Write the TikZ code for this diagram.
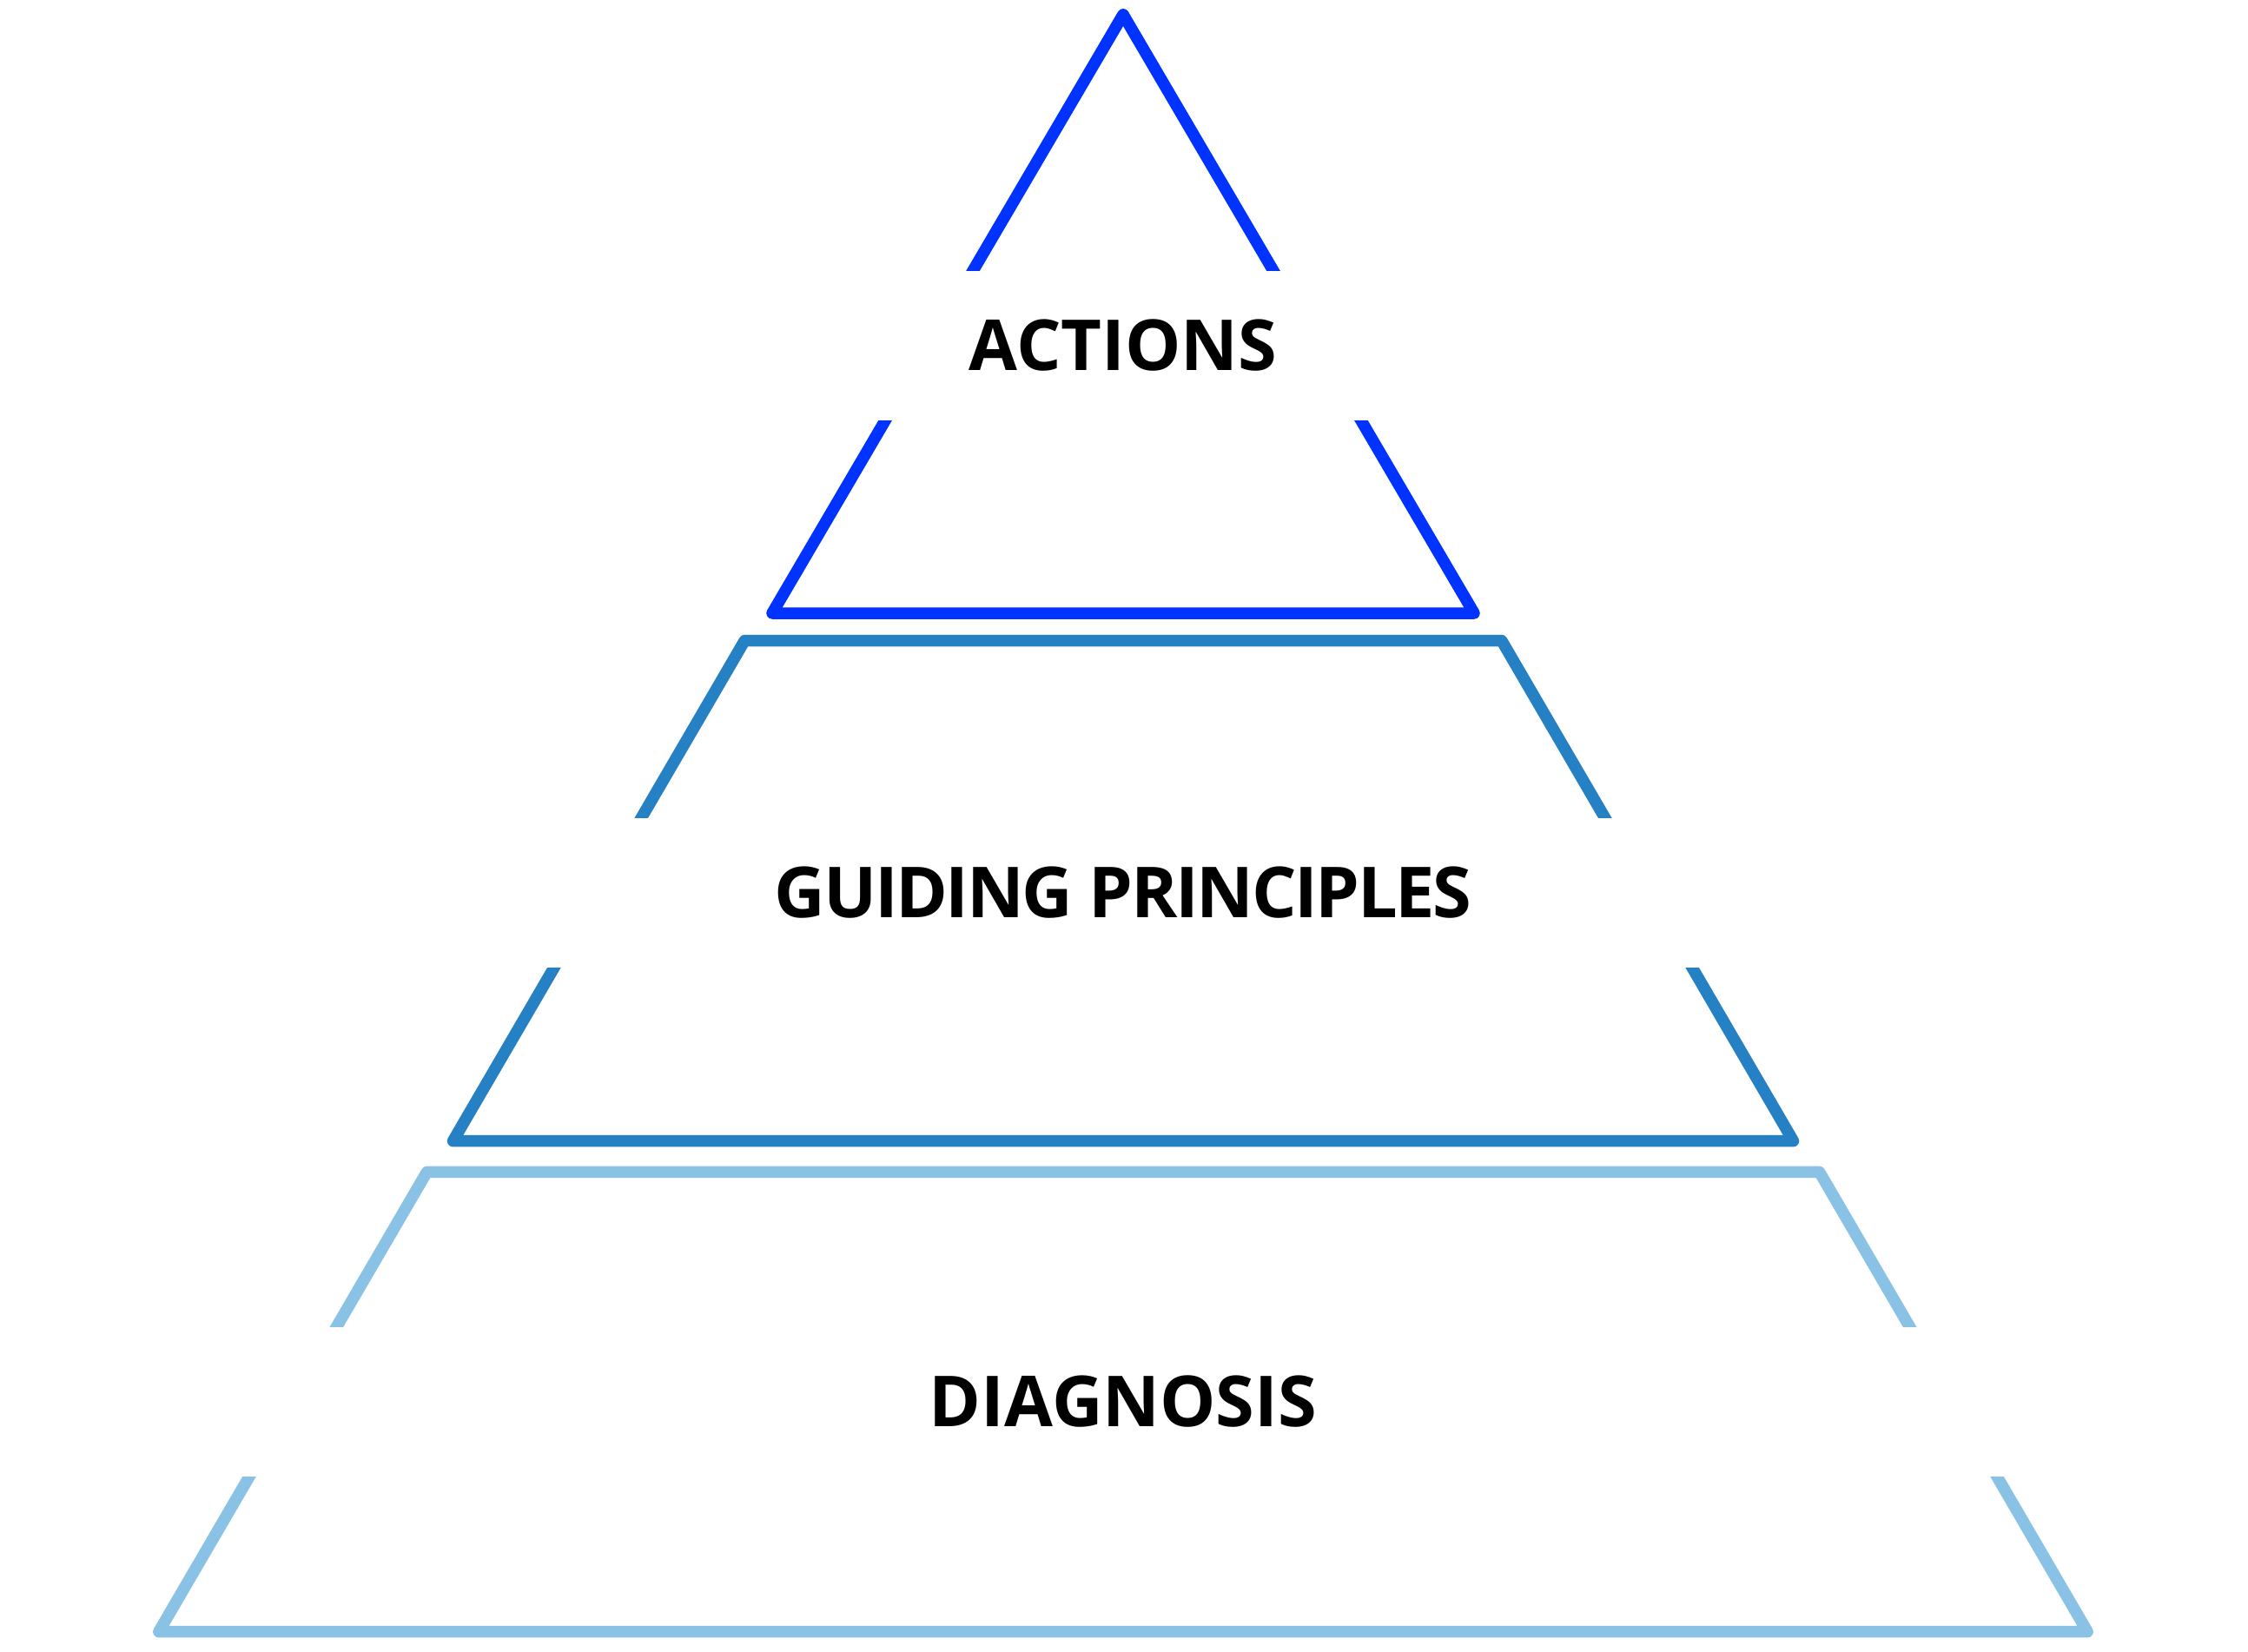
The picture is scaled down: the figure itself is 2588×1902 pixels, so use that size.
\documentclass[tikz,border=0pt]{standalone}
\usepackage{fontspec}
\setmainfont{Open Sans}
\newfontfamily\tightfont[LetterSpace=-3.0]{Open Sans}
\definecolor{topblue}{HTML}{0033FF}
\definecolor{midblue}{HTML}{2680C4}
\definecolor{lightblue}{HTML}{8AC2E6}
\tikzset{
  tier/.style={line width=13.5pt, line join=round},
  tierlabel/.style={fill=white, minimum width=2300pt, minimum height=172pt,
    inner sep=0pt, text=black, font=\fontsize{81}{97}\selectfont\bfseries},
}
\begin{document}
\begin{tikzpicture}[x=1pt,y=-1pt]
\useasboundingbox (0,0) rectangle (2588,1902);
\fill[white] (0,0) rectangle (2588,1902);
% top triangle
\coordinate (t1) at (1293,16.75);
\coordinate (t2) at (1697,706);
\coordinate (t3) at (889,706);
\draw[tier, topblue] (t1) -- (t2) -- (t3) -- cycle;
% middle trapezoid
\coordinate (m1) at (857.3,737.5);
\coordinate (m2) at (1728.7,737.5);
\coordinate (m3) at (2064.5,1313.7);
\coordinate (m4) at (521.5,1313.7);
\draw[tier, midblue] (m1) -- (m2) -- (m3) -- (m4) -- cycle;
% bottom trapezoid
\coordinate (b1) at (491.4,1349.4);
\coordinate (b2) at (2094.6,1349.4);
\coordinate (b3) at (2403.2,1878.7);
\coordinate (b4) at (182.8,1878.7);
\draw[tier, lightblue] (b1) -- (b2) -- (b3) -- (b4) -- cycle;
% labels
\node[tierlabel] (actions) at (1293,397.5) {ACTIONS};
\node[tierlabel, font=\fontsize{81}{97}\tightfont\bfseries] (principles) at (1293,1027.5) {GUIDING PRINCIPLES};
\node[tierlabel] (diagnosis) at (1293,1614) {DIAGNOSIS};
\end{tikzpicture}
\end{document}
